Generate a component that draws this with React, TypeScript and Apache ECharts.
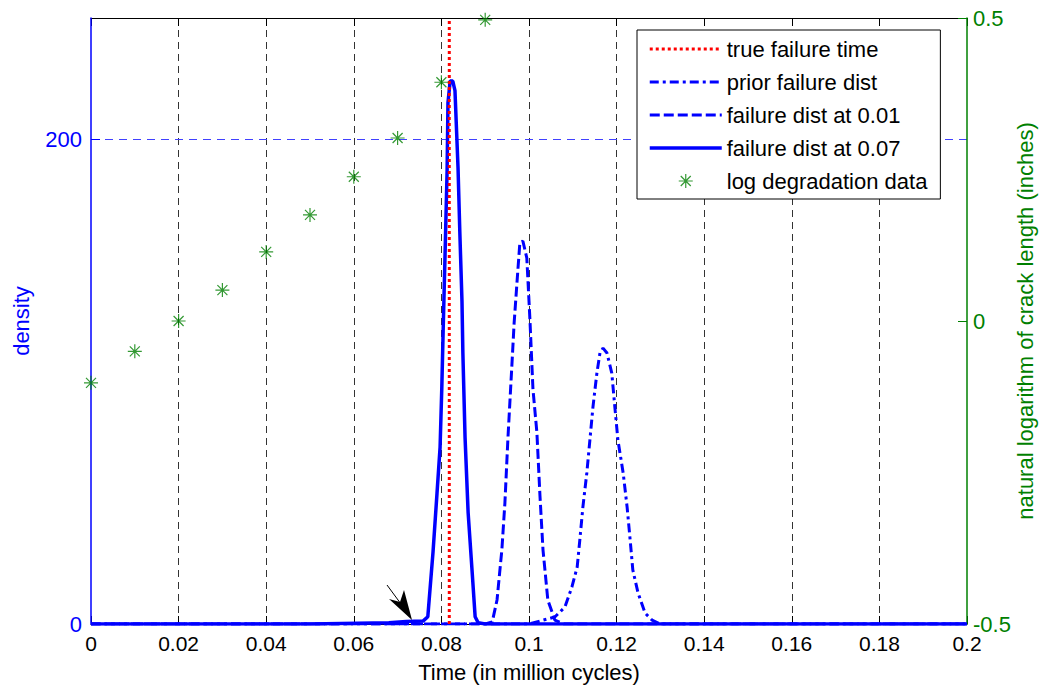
import { useEffect, useRef } from 'react';
import * as echarts from 'echarts';

const FONT = '"Liberation Sans", Arial, Helvetica, sans-serif';
const BLUE = '#0000ff';
const GREEN = '#008000';
const FS = 22;

// x axis (time, million cycles)
const X_MIN = 0;
const X_MAX = 0.2;
const X_STEP = 0.02;
// left axis (density)
const DENSITY_MIN = 0;
const DENSITY_MAX = 250;
const DENSITY_STEP = 200;
// right axis (log crack length)
const LOG_MIN = -0.5;
const LOG_MAX = 0.5;
const LOG_STEP = 0.5;

const TRUE_FAILURE_TIME = 0.0818;

// failure dist at 0.07 (solid)
const solidX = [0, 0.05, 0.068, 0.072, 0.0758, 0.0769, 0.0781, 0.079, 0.0797, 0.0801, 0.0804, 0.0808, 0.0813, 0.0815, 0.082, 0.0826, 0.0831, 0.0838, 0.0842, 0.0847, 0.0849, 0.0854, 0.0861, 0.087, 0.0877, 0.0884, 0.09, 0.2];
const solidY = [0, 0, 0.5, 1, 1.2, 3, 30, 54, 73, 98, 121, 150, 187, 215, 224, 224, 220, 188, 162, 133, 112, 77, 46, 22, 3, 0.5, 0, 0];

// failure dist at 0.01 (dashed)
const dashX = [0, 0.09, 0.0916, 0.0927, 0.0938, 0.0945, 0.0952, 0.0961, 0.0966, 0.0973, 0.0979, 0.0986, 0.0995, 0.1002, 0.1009, 0.1018, 0.1025, 0.1032, 0.1043, 0.1059, 0.108, 0.2];
const dashY = [0, 0, 0.8, 9.9, 30.5, 50, 77, 107, 124, 142, 157, 158, 151, 126, 97, 79, 53, 30.5, 9.9, 1.6, 0, 0];

// prior failure dist (dash-dot)
const priorX = [0, 0.1, 0.1059, 0.1082, 0.1098, 0.111, 0.1116, 0.1123, 0.1132, 0.1139, 0.1146, 0.1155, 0.1162, 0.1169, 0.1178, 0.1189, 0.1196, 0.1203, 0.1215, 0.1224, 0.1231, 0.1237, 0.1249, 0.1265, 0.1281, 0.13, 0.2];
const priorY = [0, 0, 2.9, 7, 15.3, 23.5, 34.6, 48.2, 62.3, 75.9, 89.5, 103.5, 111.8, 113.8, 111.8, 103.5, 89.5, 75.9, 62.3, 48.2, 34.6, 22.3, 12.8, 4.5, 1.6, 0, 0];

// log degradation data (stars, right axis)
const logX = [0, 0.01, 0.02, 0.03, 0.04, 0.05, 0.06, 0.07, 0.08, 0.09];
const logY = [-0.102, -0.05, 0.0, 0.051, 0.114, 0.175, 0.238, 0.302, 0.394, 0.497];

const NAMES = ['true failure time', 'prior failure dist', 'failure dist at 0.01', 'failure dist at 0.07', 'log degradation data'];

const STAR = 'path://M0,-7L0,7M-7,0L7,0M-5,-5L5,5M5,-5L-5,5';

const zip = (xs: number[], ys: number[]) => xs.map((x, i) => [x, ys[i]]);

const TRUE_STYLE = { color: '#ff0000', width: 3, type: [3, 3] as number[] };
const PRIOR_STYLE = { color: BLUE, width: 3, type: [9, 4, 3, 4] as number[] };
const DASH_STYLE = { color: BLUE, width: 3, type: [10, 4] as number[] };
const SOLID_STYLE = { color: BLUE, width: 3.5, type: 'solid' as const };
const HIDDEN_SYMBOL = { color: 'transparent', borderColor: 'transparent', borderWidth: 0, opacity: 0 };

export default function App() {
  const ref = useRef<HTMLDivElement>(null);
  useEffect(() => {
    if (!ref.current) return;
    const chart = echarts.init(ref.current, undefined, { renderer: 'svg' });
    const option: any = {
      animation: false,
      backgroundColor: '#fff',
      textStyle: { fontFamily: FONT },
      grid: { left: 91, right: 76, top: 18, bottom: 61, containLabel: false, outerBoundsMode: 'none' },
      legend: {
        orient: 'vertical',
        left: 637,
        top: 30,
        itemWidth: 72,
        itemHeight: 14,
        itemGap: 11,
        padding: [8, 13, 7, 11],
        borderColor: '#000',
        borderWidth: 1,
        borderRadius: 0,
        backgroundColor: '#fff',
        selectedMode: false,
        textStyle: { fontSize: FS, color: '#000', lineHeight: 22, fontFamily: FONT },
        data: [
          { name: NAMES[0], lineStyle: TRUE_STYLE, itemStyle: HIDDEN_SYMBOL },
          { name: NAMES[1], lineStyle: PRIOR_STYLE, itemStyle: HIDDEN_SYMBOL },
          { name: NAMES[2], lineStyle: DASH_STYLE, itemStyle: HIDDEN_SYMBOL },
          { name: NAMES[3], lineStyle: SOLID_STYLE, itemStyle: HIDDEN_SYMBOL },
          { name: NAMES[4], icon: STAR, itemStyle: { color: 'transparent', borderColor: GREEN, borderWidth: 1.2 } },
        ],
      },
      xAxis: [
        {
          type: 'value',
          min: X_MIN,
          max: X_MAX,
          interval: X_STEP,
          name: 'Time (in million cycles)',
          nameLocation: 'middle',
          nameGap: 37,
          nameMoveOverlap: false,
          nameTextStyle: { fontSize: FS, color: '#000', fontFamily: FONT },
          axisLine: { show: true, onZero: false, lineStyle: { color: '#000', width: 1 } },
          axisTick: { show: true, inside: true, length: 8, lineStyle: { color: '#000' } },
          axisLabel: { fontSize: 21, color: '#000', margin: 9, fontFamily: FONT },
          splitLine: { show: true, showMinLine: false, showMaxLine: false, lineStyle: { color: '#333', width: 1, type: [7, 5] } },
          z: 1,
        },
        {
          type: 'value',
          position: 'top',
          min: X_MIN,
          max: X_MAX,
          interval: X_STEP,
          axisLine: { show: true, onZero: false, lineStyle: { color: '#000', width: 1 } },
          axisTick: { show: true, inside: true, length: 8, lineStyle: { color: '#000' } },
          axisLabel: { show: false },
          splitLine: { show: false },
          z: 1,
        },
      ],
      yAxis: [
        {
          type: 'value',
          position: 'left',
          min: DENSITY_MIN,
          max: DENSITY_MAX,
          interval: DENSITY_STEP,
          name: 'density',
          nameLocation: 'middle',
          nameGap: 59,
          nameMoveOverlap: false,
          nameTextStyle: { fontSize: FS, color: BLUE, fontFamily: FONT },
          axisLine: { show: true, onZero: false, lineStyle: { color: BLUE, width: 1.5 } },
          axisTick: { show: true, inside: true, length: 9, lineStyle: { color: BLUE } },
          axisLabel: { fontSize: FS, color: BLUE, margin: 9, fontFamily: FONT, showMaxLabel: false },
          splitLine: { show: true, showMinLine: false, showMaxLine: false, lineStyle: { color: '#4040ff', width: 1, type: [8, 6] } },
          z: 2,
        },
        {
          type: 'value',
          position: 'right',
          min: LOG_MIN,
          max: LOG_MAX,
          interval: LOG_STEP,
          name: 'natural logarithm of crack length (inches)',
          nameLocation: 'middle',
          nameGap: 47,
          nameMoveOverlap: false,
          nameTextStyle: { fontSize: FS, color: GREEN, fontFamily: FONT },
          axisLine: { show: true, onZero: false, lineStyle: { color: GREEN, width: 1.5 } },
          axisTick: { show: true, inside: true, length: 9, lineStyle: { color: GREEN } },
          axisLabel: { fontSize: FS, color: GREEN, margin: 6, fontFamily: FONT },
          splitLine: { show: false },
          z: 2,
        },
      ],
      series: [
        {
          name: NAMES[1],
          type: 'line',
          xAxisIndex: 0,
          yAxisIndex: 0,
          data: zip(priorX, priorY),
          symbol: 'none',
          lineStyle: PRIOR_STYLE,
          z: 2,
        },
        {
          name: NAMES[2],
          type: 'line',
          xAxisIndex: 0,
          yAxisIndex: 0,
          data: zip(dashX, dashY),
          symbol: 'none',
          lineStyle: DASH_STYLE,
          z: 3,
        },
        {
          name: NAMES[3],
          type: 'line',
          xAxisIndex: 0,
          yAxisIndex: 0,
          data: zip(solidX, solidY),
          symbol: 'none',
          lineStyle: SOLID_STYLE,
          z: 4,
        },
        {
          name: NAMES[0],
          type: 'line',
          xAxisIndex: 0,
          yAxisIndex: 0,
          data: [[TRUE_FAILURE_TIME, DENSITY_MIN], [TRUE_FAILURE_TIME, DENSITY_MAX]],
          symbol: 'none',
          lineStyle: TRUE_STYLE,
          z: 5,
        },
        {
          name: NAMES[4],
          type: 'scatter',
          xAxisIndex: 0,
          yAxisIndex: 1,
          data: zip(logX, logY),
          symbol: STAR,
          symbolSize: 14,
          clip: false,
          itemStyle: { color: 'transparent', borderColor: GREEN, borderWidth: 1.2 },
          z: 6,
        },
      ],
      graphic: [
        { type: 'line', shape: { x1: 387, y1: 585, x2: 401, y2: 604 }, style: { stroke: '#000', lineWidth: 1 }, z: 10 },
        { type: 'polygon', shape: { points: [[412, 620], [404, 590], [400, 602], [389, 599]] }, style: { fill: '#000' }, z: 10 },
      ],
    };
    chart.setOption(option);
    return () => chart.dispose();
  }, []);
  return <div ref={ref} style={{ position: 'fixed', left: 0, top: 0, width: 1043, height: 685, background: '#fff' }} />;
}
